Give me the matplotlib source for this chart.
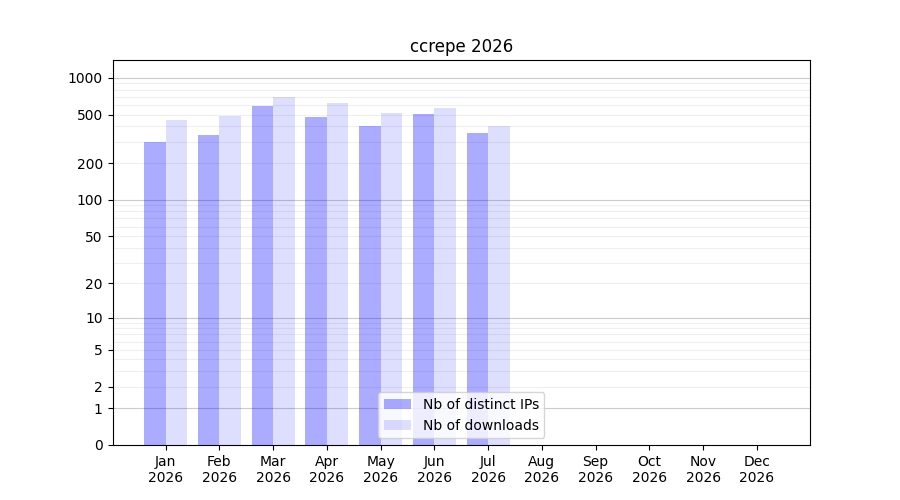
import numpy as np
import matplotlib.pyplot as plt
from matplotlib.ticker import FixedLocator, FixedFormatter

months = ['Jan', 'Feb', 'Mar', 'Apr', 'May', 'Jun', 'Jul', 'Aug', 'Sep', 'Oct', 'Nov', 'Dec']
year = 2026
distinct_ips = [299, 342, 594, 480, 405, 508, 355, 0, 0, 0, 0, 0]
downloads = [454, 492, 700, 625, 518, 569, 405, 0, 0, 0, 0, 0]


def fwd(y):
    return np.log10(1 + np.clip(y, 0, None))


def inv(y):
    return 10 ** y - 1


x = np.arange(len(months))
fig, ax = plt.subplots(figsize=(9, 5), dpi=100)
ax.set_yscale('function', functions=(fwd, inv))
ax.bar(x, distinct_ips, width=-0.4, align='edge', color='blue', alpha=0.33,
       label='Nb of distinct IPs')
ax.bar(x, downloads, width=0.4, align='edge', color='blue', alpha=0.13,
       label='Nb of downloads')

major = [0, 1, 2, 5, 10, 20, 50, 100, 200, 500, 1000]
ax.yaxis.set_major_locator(FixedLocator(major))
ax.yaxis.set_major_formatter(FixedFormatter([str(v) for v in major]))
minor = [m * 10 ** e for e in range(0, 4) for m in range(1, 10)]
ax.yaxis.set_minor_locator(FixedLocator(minor))
ax.tick_params(axis='y', which='minor', length=0)
for v in [1, 10, 100, 1000]:
    ax.axhline(v, color='grey', alpha=0.4, linewidth=0.8, zorder=0)
for v in minor:
    if v not in (1, 10, 100, 1000):
        ax.axhline(v, color='grey', alpha=0.12, linewidth=0.8, zorder=0)

ax.set_ylim(0, 1400)
ax.set_xlim(-0.99, 11.99)
ax.set_xticks(x)
ax.set_xticklabels([f'{m}\n{year}' for m in months])
ax.set_title(f'ccrepe {year}')
ax.legend(loc='lower center')
fig.savefig('out.png')
